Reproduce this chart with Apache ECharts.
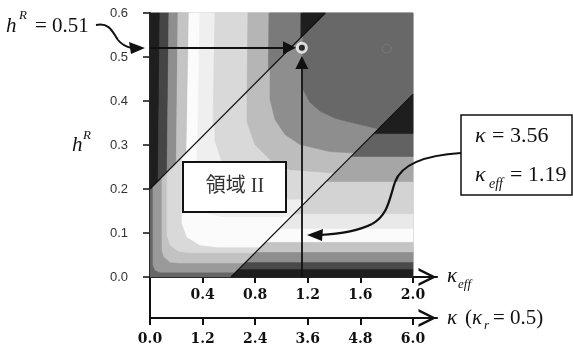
<!DOCTYPE html>
<html><head><meta charset="utf-8">
<script src="https://cdn.jsdelivr.net/npm/echarts@6/dist/echarts.min.js"></script>
<style>html,body{margin:0;padding:0;background:#fff}#c{width:573px;height:349px}</style>
</head><body><div id="c"></div>
<script>
// ---------- data ----------
const hTicksInterval = 0.1;
const kappaEffTicks = [0, 0.4, 0.8, 1.2, 1.6, 2.0];
const kappaEffLabels = [0.4, 0.8, 1.2, 1.6, 2.0];
const kappaTicks = [0, 1.2, 2.4, 3.6, 4.8, 6.0];

// Region I (above the upper diagonal): vertical bands; κ_eff boundaries at h=0.6 and at h=0.2
const region1Colors = ['#1e1e1e','#454545','#8e8e8e','#c4c4c4','#fbfbfb','#efefef','#d9d9d9','#b5b5b5','#7a7a7a','#1e1e1e'];
const region1BoundTop = [0.076, 0.144, 0.213, 0.297, 0.380, 0.494, 0.745, 0.905, 1.148];
const region1BoundBottom = [0.061, 0.129, 0.198, 0.274, 0.357, 0.471, 0.730, 0.890, 1.140];

// Region III (below the lower diagonal): horizontal bands, h boundaries (bottom to top)
const region3Colors = ['#1e1e1e','#4a4a4a','#8e8e8e','#c4c4c4','#fbfbfb','#e9e9e9','#d3d3d3','#a6a6a6','#626262','#1e1e1e'];
const region3Bounds = [0.018, 0.034, 0.057, 0.080, 0.110, 0.144, 0.217, 0.274, 0.326];

// Region II (between diagonals): nested L-shaped contour lines (top edge -> right edge)
const region2Base = '#666666';
const region2Colors = ['#9a9a9a','#c2c2c2','#d9d9d9','#fbfbfb','#efefef','#d9d9d9','#bdbdbd','#8e8e8e','#686868'];
const region2Contours = [
  [[0.023,0.6],[0.023,0.027],[0.038,0.016],[0.076,0.011],[2,0.011]],
  [[0.091,0.6],[0.091,0.062],[0.106,0.046],[0.152,0.034],[0.228,0.032],[2,0.032]],
  [[0.129,0.6],[0.129,0.096],[0.152,0.073],[0.213,0.059],[0.304,0.055],[2,0.055]],
  [[0.243,0.6],[0.243,0.123],[0.281,0.091],[0.380,0.073],[0.509,0.068],[2,0.068]],
  [[0.357,0.6],[0.357,0.200],[0.380,0.165],[0.440,0.145],[0.550,0.137],[2,0.137]],
  [[0.494,0.6],[0.494,0.310],[0.548,0.260],[0.620,0.215],[0.750,0.185],[0.950,0.177],[2,0.176]],
  [[0.738,0.6],[0.738,0.352],[0.798,0.301],[0.913,0.267],[1.065,0.244],[1.369,0.237],[2,0.237]],
  [[0.913,0.6],[0.913,0.404],[0.951,0.358],[1.027,0.324],[1.141,0.301],[1.369,0.285],[2,0.274]],
  [[1.163,0.6],[1.163,0.427],[1.217,0.397],[1.293,0.377],[1.407,0.361],[1.521,0.352],[1.749,0.336],[2,0.326]]
];

const upperLine = [[0, 0.2], [1.333, 0.6]];
const lowerLine = [[0.616, 0], [2.0, 0.415]];
const operatingPoint = [1.155, 0.521];
const otherPoint = [1.80, 0.519];
const hArrowEnd = 1.061;
const vArrowEnd = 0.4875;

// ---------- build polygons ----------
const K0 = 0, K1 = 2.0, H0 = 0, H1 = 0.6;
function lineEq(l){ const m=(l[1][1]-l[0][1])/(l[1][0]-l[0][0]); return {m, q:l[0][1]-m*l[0][0]}; }
function clip(poly, a, b, c){
  const f = p => a*p[0] + b*p[1] + c;
  const out = [];
  for (let i=0;i<poly.length;i++){
    const cur = poly[i], prev = poly[(i+poly.length-1)%poly.length];
    const dc = f(cur), dp = f(prev);
    const inter = () => { const t = dp/(dp-dc); return [prev[0]+t*(cur[0]-prev[0]), prev[1]+t*(cur[1]-prev[1])]; };
    if (dc >= 0){ if (dp < 0) out.push(inter()); out.push(cur); }
    else if (dp >= 0) out.push(inter());
  }
  return out;
}
const U = lineEq(upperLine), L = lineEq(lowerLine);
const polys = [];
polys.push({fill: region2Base, pts: [[K0,H0],[K1,H0],[K1,H1],[K0,H1]]});
region2Contours.forEach((ct,i)=>polys.push({fill: region2Colors[i], pts: ct.concat([[K1,H1]])}));
const r1T = [K0].concat(region1BoundTop, [K1]);
const r1B = [K0].concat(region1BoundBottom, [K1]);
for (let i=0;i<region1Colors.length;i++){
  const p = [[r1T[i],H1],[r1T[i+1],H1],[r1B[i+1],0.2],[r1B[i],0.2]];
  polys.push({fill: region1Colors[i], pts: clip(p, -U.m, 1, -U.q)});
}
const r3 = [H0].concat(region3Bounds, [H1]);
for (let i=0;i<region3Colors.length;i++){
  const p = [[K0,r3[i]],[K1,r3[i]],[K1,r3[i+1]],[K0,r3[i+1]]];
  polys.push({fill: region3Colors[i], pts: clip(p, L.m, -1, L.q)});
}

// ---------- chart ----------
const chart = echarts.init(document.getElementById('c'), null, {renderer:'canvas'});
const serif = "'Liberation Serif','Times New Roman',serif";
const ink = '#111';
function txt(x, y, text, size, o){
  o = o || {};
  const font = (o.italic?'italic ':'') + (o.bold?'bold ':'') + size + 'px ' + (o.family||serif);
  return {type:'text', x, y, z:100, silent:true,
    style:{text, font, fill:o.color||ink, align:o.align||'left', verticalAlign:'middle',
           textAlign:o.align||'left', textVerticalAlign:'middle'}};
}
function bez(x1,y1,c1x,c1y,c2x,c2y,x2,y2,w){
  return {type:'bezierCurve', z:100, silent:true,
    shape:{x1,y1,cpx1:c1x,cpy1:c1y,cpx2:c2x,cpy2:c2y,x2,y2},
    style:{fill:null, stroke:ink, lineWidth:w}};
}
const chevron = 'path://M0,20 L10,0 L20,20 L17,20 L10,6 L3,20 Z';
const tickFont = {fontFamily:'DejaVu Serif', fontWeight:'bold', fontSize:14, color:ink};

chart.setOption({
  animation:false,
  grid:[{left:150, top:13, width:287, height:264}, {left:150, top:277, width:287, height:41}],
  xAxis:[
    {gridIndex:0, type:'value', min:0, max:2.183,
     axisLine:{show:true, onZero:false, lineStyle:{color:ink, width:2}, symbol:['none', chevron], symbolSize:[18,19], symbolOffset:[0,-9.5]},
     axisTick:{show:true, length:6, lineStyle:{color:ink, width:2}, customValues:kappaEffTicks},
     axisLabel:Object.assign({customValues:kappaEffLabels, margin:11, formatter:v=>v.toFixed(1)}, tickFont),
     splitLine:{show:false}},
    {gridIndex:1, type:'value', min:0, max:6.548,
     axisLine:{show:true, onZero:false, lineStyle:{color:ink, width:2}, symbol:['none', chevron], symbolSize:[18,19], symbolOffset:[0,-9.5]},
     axisTick:{show:true, length:7, lineStyle:{color:ink, width:2}, customValues:kappaTicks},
     axisLabel:Object.assign({customValues:kappaTicks, margin:14, formatter:v=>v.toFixed(1)}, tickFont),
     splitLine:{show:false}}
  ],
  yAxis:[
    {gridIndex:0, type:'value', min:0, max:0.6, interval:hTicksInterval,
     axisLine:{show:true, onZero:false, lineStyle:{color:ink, width:2}},
     axisTick:{show:true, length:7, lineStyle:{color:ink, width:1.5}},
     axisLabel:{margin:22, formatter:v=>v.toFixed(1), fontFamily:'Liberation Sans', fontSize:13, color:'#333'},
     splitLine:{show:false}},
    {gridIndex:1, type:'value', min:0, max:1,
     axisLine:{show:true, onZero:false, lineStyle:{color:ink, width:2}},
     axisTick:{show:false}, axisLabel:{show:false}, splitLine:{show:false}}
  ],
  series:[
    {type:'custom', xAxisIndex:0, yAxisIndex:0, silent:true, z:1,
     data: polys.map(()=>[0,0]),
     renderItem:(params, api)=>{
       const p = polys[params.dataIndex];
       if (!p.pts || p.pts.length < 3) return null;
       return {type:'polygon', shape:{points:p.pts.map(pt=>api.coord(pt))},
               style:{fill:p.fill, stroke:p.fill, lineWidth:0.6}};
     }},
    {type:'line', xAxisIndex:0, yAxisIndex:0, data:upperLine, showSymbol:false, silent:true, z:5,
     lineStyle:{color:ink, width:1.1}},
    {type:'line', xAxisIndex:0, yAxisIndex:0, data:lowerLine, showSymbol:false, silent:true, z:5,
     lineStyle:{color:ink, width:1.1}},
    {type:'line', xAxisIndex:0, yAxisIndex:0, data:[], silent:true, z:6,
     markLine:{silent:true, symbol:['none','triangle'], symbolSize:13, label:{show:false},
       lineStyle:{color:ink, width:1.8, type:'solid'}, emphasis:{disabled:true},
       data:[
         [{coord:[0, operatingPoint[1]]},{coord:[hArrowEnd, operatingPoint[1]]}],
         [{coord:[operatingPoint[0], 0]},{coord:[operatingPoint[0], vArrowEnd]}]
       ]}},
    {type:'scatter', xAxisIndex:0, yAxisIndex:0, data:[otherPoint], symbol:'circle', symbolSize:9, silent:true, z:7,
     itemStyle:{color:'rgba(0,0,0,0)', borderColor:'#7d7d7d', borderWidth:1}},
    {type:'scatter', xAxisIndex:0, yAxisIndex:0, data:[operatingPoint], symbol:'circle', symbolSize:9, silent:true, z:8,
     itemStyle:{color:ink, borderColor:'#fff', borderWidth:3}}
  ],
  graphic:[
    txt(6,26,'h',21,{italic:true}), txt(19,16,'R',13,{italic:true}), txt(35,26,'= 0.51',21),
    bez(96,25,110,22,113,33,118,40,2), bez(118,40,122,45,127,47,132,48,2),
    {type:'polygon', z:100, silent:true, shape:{points:[[145,48],[129,42],[131,54]]}, style:{fill:ink}},
    txt(72,145,'h',21,{italic:true}), txt(83,136,'R',13,{italic:true}),
    txt(447,276,'κ',21,{italic:true}), txt(458,285,'eff',13,{italic:true}),
    txt(447,318,'κ',21,{italic:true}), txt(465,318,'(',21), txt(472,318,'κ',21,{italic:true}),
    txt(484,326,'r',13,{italic:true}), txt(493,318,'= 0.5)',21),
    {type:'rect', z:99, silent:true, shape:{x:461,y:115,width:111,height:80}, style:{fill:'#fff', stroke:ink, lineWidth:1.5}},
    txt(475,136,'κ',22,{italic:true}), txt(492,136,'= 3.56',22),
    txt(475,175,'κ',22,{italic:true}), txt(489,184,'eff',14,{italic:true}), txt(510,175,'= 1.19',22),
    bez(461,153,428,155,402,163,395,182,2.2), bez(395,182,389,200,388,215,372,224,2.2), bez(372,224,358,231,338,234,320,235,2.2),
    {type:'polygon', z:100, silent:true, shape:{points:[[307,235],[323,229],[322,241]]}, style:{fill:ink}},
    {type:'rect', z:99, silent:true, shape:{x:183,y:162,width:103,height:50}, style:{fill:'#fff', stroke:ink, lineWidth:2}},
    txt(235,187,'領域 II',20,{align:'center', color:'#333', family:"'Liberation Serif','Noto Sans CJK JP',serif"})
  ]
});
</script></body></html>
